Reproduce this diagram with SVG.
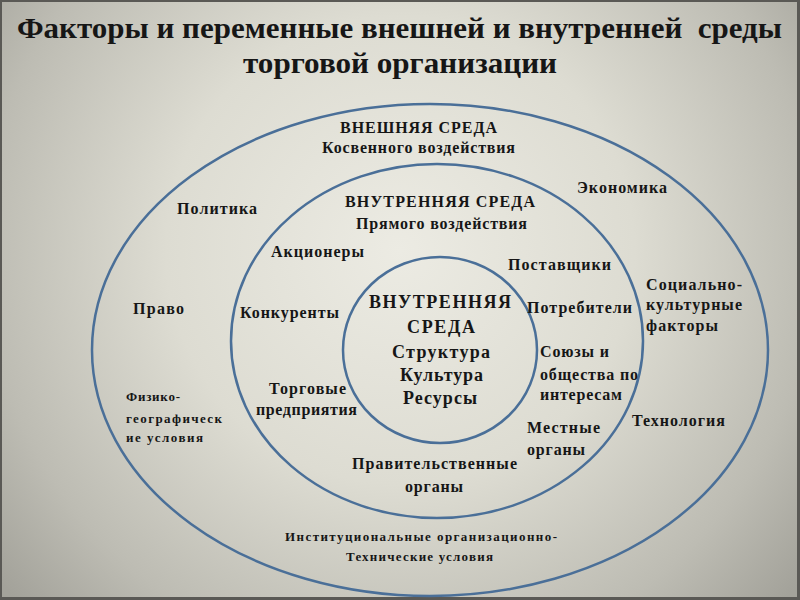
<svg xmlns="http://www.w3.org/2000/svg" width="800" height="600" viewBox="0 0 800 600">
<defs>
<radialGradient id="bg" cx="400" cy="250" r="520" gradientUnits="userSpaceOnUse">
<stop offset="0" stop-color="#ecebe3"/>
<stop offset="0.45" stop-color="#dddcd2"/>
<stop offset="0.8" stop-color="#bdbcb3"/>
<stop offset="1" stop-color="#a3a29a"/>
</radialGradient>
<style>
.ring{fill:none;stroke:#4a6f98;stroke-width:2.5}
.txt text{font-family:'Liberation Serif','DejaVu Serif',serif;font-weight:700;fill:#161616}
.t{font-size:30px}
.l{font-size:16px}
.s{font-size:13px}
.c{font-size:18px}
</style>
</defs>
<rect x="0" y="0" width="800" height="600" fill="#5a5955"/>
<rect x="2" y="2" width="795" height="595" fill="url(#bg)"/>
<g id="rings">
<ellipse id="outer-ring" class="ring" cx="430" cy="350" rx="338" ry="246"/>
<ellipse id="middle-ring" class="ring" cx="437" cy="341" rx="206" ry="177"/>
<ellipse id="inner-ring" class="ring" cx="440" cy="350" rx="97" ry="93"/>
</g>
<g class="txt" font-family="Liberation Serif, DejaVu Serif, serif" font-weight="bold">
<g id="title">
<text class="t" x="17" y="38" textLength="765" lengthAdjust="spacingAndGlyphs" xml:space="preserve">Факторы и переменные внешней и внутренней  среды</text>
<text class="t" x="243" y="73" textLength="314" lengthAdjust="spacingAndGlyphs">торговой организации</text>
</g>
<g id="outer-header">
<text class="l" x="340" y="133" textLength="157">ВНЕШНЯЯ СРЕДА</text>
<text class="l" x="322" y="153" textLength="193">Косвенного воздействия</text>
</g>
<g id="middle-header">
<text class="l" x="345" y="207" textLength="190">ВНУТРЕННЯЯ СРЕДА</text>
<text class="l" x="356" y="229" textLength="171">Прямого воздействия</text>
</g>
<g id="inner-core">
<text class="c" x="369" y="308" textLength="142">ВНУТРЕННЯЯ</text>
<text class="c" x="407" y="333" textLength="68">СРЕДА</text>
<text class="c" x="392" y="358" textLength="98">Структура</text>
<text class="c" x="400" y="381" textLength="83">Культура</text>
<text class="c" x="403" y="404" textLength="74">Ресурсы</text>
</g>
<g id="politika"><text class="l" x="177" y="214" textLength="80">Политика</text></g>
<g id="ekonomika"><text class="l" x="577" y="193" textLength="90">Экономика</text></g>
<g id="pravo"><text class="l" x="133" y="314" textLength="51">Право</text></g>
<g id="socio"><text class="l" x="646" y="290" textLength="96">Социально-</text><text class="l" x="646" y="310" textLength="96">культурные</text><text class="l" x="646" y="331" textLength="72">факторы</text></g>
<g id="fiziko"><text class="s" x="126" y="401" textLength="54">Физико-</text><text class="s" x="126" y="423" textLength="96">географическ</text><text class="s" x="126" y="442" textLength="77">ие условия</text></g>
<g id="tekhnologiya"><text class="l" x="632" y="426" textLength="93">Технология</text></g>
<g id="institutional"><text class="s" x="285" y="541" textLength="272">Институциональные организационно-</text><text class="s" x="346" y="561" textLength="147">Технические условия</text></g>
<g id="aktsionery"><text class="l" x="271" y="257" textLength="93">Акционеры</text></g>
<g id="postavshchiki"><text class="l" x="508" y="270" textLength="103">Поставщики</text></g>
<g id="konkurenty"><text class="l" x="240" y="318" textLength="99">Конкуренты</text></g>
<g id="potrebiteli"><text class="l" x="527" y="313" textLength="105">Потребители</text></g>
<g id="soyuzy"><text class="l" x="540" y="357" textLength="69">Союзы и</text><text class="l" x="540" y="380" textLength="98">общества по</text><text class="l" x="540" y="400" textLength="82">интересам</text></g>
<g id="torgovye"><text class="l" x="269" y="394" textLength="77">Торговые</text><text class="l" x="256" y="415" textLength="101">предприятия</text></g>
<g id="mestnye"><text class="l" x="527" y="433" textLength="73">Местные</text><text class="l" x="527" y="455" textLength="58">органы</text></g>
<g id="pravitelstvennye"><text class="l" x="352" y="469" textLength="165">Правительственные</text><text class="l" x="405" y="492" textLength="58">органы</text></g>
</g>
</svg>
